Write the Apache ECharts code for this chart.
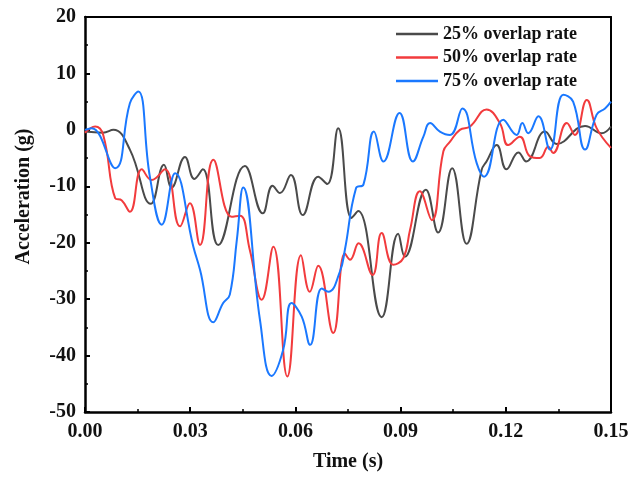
<!DOCTYPE html>
<html>
<head>
<meta charset="utf-8">
<script src="https://cdn.jsdelivr.net/npm/echarts@6/dist/echarts.min.js"></script>
<style>
  html, body { margin: 0; padding: 0; background: #fff; }
  #chart { width: 628px; height: 479px; }
</style>
</head>
<body>
<div id="chart"></div>
<script>
// Acceleration traces for three overlap rates: [time (s), acceleration (g)]
const overlap25 = [
  [0.0000, -0.3], [0.0051, -0.5], [0.0081, 0.0], [0.0128, -3.5], [0.0188, -13.1],
  [0.0225, -6.2], [0.0247, -10.2], [0.0285, -4.8], [0.0312, -8.7], [0.0336, -7.0],
  [0.0380, -20.4], [0.0456, -6.4], [0.0507, -14.8], [0.0535, -9.9], [0.0556, -11.2],
  [0.0587, -8.0], [0.0621, -15.1], [0.0665, -8.3], [0.0691, -9.6], [0.0722, 0.3],
  [0.0760, -15.6], [0.0779, -14.4], [0.0846, -33.2], [0.0893, -18.4], [0.0912, -22.5],
  [0.0972, -10.6], [0.1007, -18.2], [0.1047, -6.8], [0.1088, -20.2], [0.1131, -7.1],
  [0.1145, -5.6], [0.1174, -2.7], [0.1202, -7.0], [0.1236, -4.0], [0.1258, -5.6],
  [0.1312, -0.3], [0.1345, -2.5], [0.1426, 0.7], [0.1473, -0.6], [0.1500, 0.6]
];
const overlap50 = [
  [0.0000, -0.5], [0.0029, 0.6], [0.0052, -0.9], [0.0086, -12.1], [0.0105, -12.5],
  [0.0128, -14.5], [0.0162, -7.0], [0.0190, -8.9], [0.0228, -7.0], [0.0271, -17.1],
  [0.0299, -13.0], [0.0328, -20.4], [0.0366, -5.3], [0.0418, -15.4], [0.0442, -15.2],
  [0.0470, -21.3], [0.0504, -30.1], [0.0537, -20.7], [0.0577, -43.7], [0.0616, -22.2],
  [0.0641, -28.7], [0.0665, -24.1], [0.0708, -36.0], [0.0741, -21.9], [0.0756, -23.0],
  [0.0780, -20.1], [0.0820, -25.7], [0.0846, -18.3], [0.0879, -23.9], [0.0908, -22.7],
  [0.0927, -17.7], [0.0955, -10.9], [0.0989, -16.0], [0.1022, -3.8], [0.1041, -2.1],
  [0.1069, 0.0], [0.1098, 0.6], [0.1145, 3.6], [0.1183, 1.2], [0.1207, -2.7],
  [0.1240, -1.2], [0.1269, -4.7], [0.1297, -5.0], [0.1321, -3.0], [0.1335, -4.1],
  [0.1374, 1.2], [0.1397, -0.9], [0.1431, 5.3], [0.1459, 0.3], [0.1500, -3.2]
];
const overlap75 = [
  [0.0000, 0.0], [0.0019, 0.3], [0.0086, -6.8], [0.0128, 4.7], [0.0152, 6.8],
  [0.0185, -8.3], [0.0219, -16.8], [0.0257, -7.7], [0.0309, -20.7], [0.0328, -24.8],
  [0.0366, -34.1], [0.0394, -30.7], [0.0413, -29.2], [0.0433, -19.5], [0.0451, -10.2],
  [0.0499, -33.7], [0.0532, -43.6], [0.0565, -39.0], [0.0589, -30.7], [0.0618, -33.1],
  [0.0642, -38.1], [0.0675, -28.1], [0.0694, -28.7], [0.0727, -25.1], [0.0741, -21.3],
  [0.0773, -10.3], [0.0794, -9.7], [0.0824, -0.3], [0.0851, -5.6], [0.0897, 3.0],
  [0.0935, -5.6], [0.0965, -1.2], [0.0984, 1.2], [0.1012, -0.3], [0.1041, -0.9],
  [0.1076, 3.8], [0.1117, -5.9], [0.1138, -8.3], [0.1193, 1.8], [0.1231, -0.9],
  [0.1247, 1.2], [0.1264, -0.6], [0.1293, 2.4], [0.1326, -3.5], [0.1364, 6.2],
  [0.1392, 5.0], [0.1426, -3.5], [0.1459, 2.7], [0.1483, 3.8], [0.1500, 5.0]
];
const seriesNames = ['25% overlap rate', '50% overlap rate', '75% overlap rate'];
const seriesColors = ['#4a4a4a', '#f23b3d', '#1a78ff'];

const serif = '"Times New Roman", "Liberation Serif", serif';
const axisText = { color: '#111', fontFamily: serif, fontWeight: 'bold', fontSize: 20 };

const chart = echarts.init(document.getElementById('chart'), null, { renderer: 'canvas' });

const mkSeries = (name, data, color) => ({
  name, type: 'line', data, smooth: 0.45, symbol: 'none',
  lineStyle: { color, width: 2 }, itemStyle: { color }
});

chart.setOption({
  backgroundColor: '#fff',
  animation: false,
  grid: { left: 85, right: 17, top: 17, bottom: 67, outerBoundsMode: 'none' },
  legend: {
    orient: 'vertical', left: 391, top: 20, icon: 'rect',
    itemWidth: 42, itemHeight: 2.5, itemGap: 5.5,
    textStyle: { color: '#111', fontFamily: serif, fontWeight: 'bold', fontSize: 18, lineHeight: 18 },
    data: seriesNames
  },
  xAxis: [{
    type: 'value', min: 0, max: 0.15, interval: 0.03,
    name: 'Time (s)', nameLocation: 'middle', nameGap: 40,
    nameTextStyle: { ...axisText },
    axisLine: { show: true, onZero: false, lineStyle: { color: '#000', width: 2.5 } },
    axisTick: { show: true, inside: true, length: 5, lineStyle: { color: '#000', width: 2 } },
    minorTick: { show: true, splitNumber: 2, length: 3, lineStyle: { color: '#000', width: 1.5 } },
    axisLabel: { ...axisText, margin: 10, formatter: v => v.toFixed(2) },
    splitLine: { show: false }
  }, {
    type: 'value', position: 'top', min: 0, max: 0.15,
    axisLine: { show: true, onZero: false, lineStyle: { color: '#000', width: 2 } },
    axisTick: { show: false }, axisLabel: { show: false }, splitLine: { show: false }
  }],
  yAxis: [{
    type: 'value', min: -50, max: 20, interval: 10,
    name: 'Acceleration (g)', nameLocation: 'middle', nameGap: 51, nameRotate: 90,
    nameTextStyle: { ...axisText, padding: [0, 0, 0, 36] },
    axisLine: { show: true, onZero: false, lineStyle: { color: '#000', width: 2.5 } },
    axisTick: { show: true, inside: true, length: 5, lineStyle: { color: '#000', width: 2 } },
    minorTick: { show: true, splitNumber: 2, length: 3, lineStyle: { color: '#000', width: 1.5 } },
    axisLabel: { ...axisText, margin: 9 },
    splitLine: { show: false }
  }, {
    type: 'value', position: 'right', min: -50, max: 20,
    axisLine: { show: true, onZero: false, lineStyle: { color: '#000', width: 2 } },
    axisTick: { show: false }, axisLabel: { show: false }, splitLine: { show: false }
  }],
  series: [
    mkSeries(seriesNames[0], overlap25, seriesColors[0]),
    mkSeries(seriesNames[1], overlap50, seriesColors[1]),
    mkSeries(seriesNames[2], overlap75, seriesColors[2])
  ]
});
</script>
</body>
</html>
